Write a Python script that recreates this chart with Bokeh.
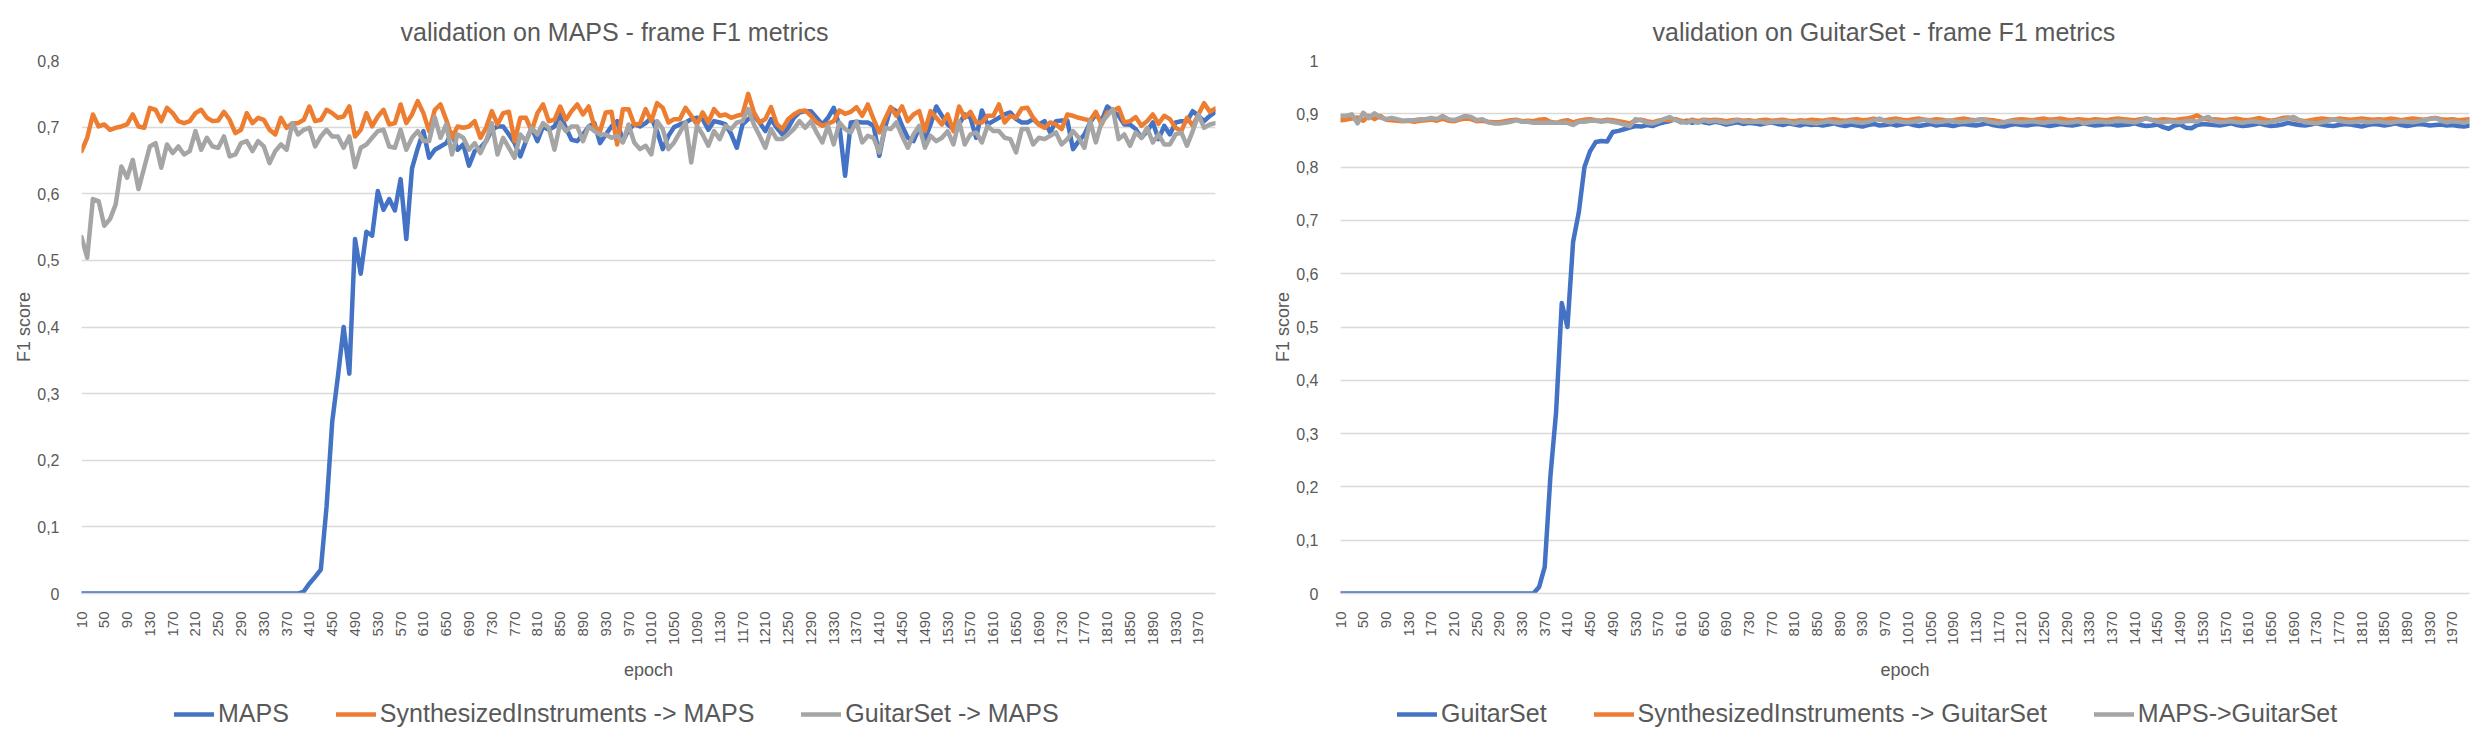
import math
from bokeh.plotting import figure
from bokeh.models import (FixedTicker, CustomJSTickFormatter, Legend, LegendItem,
                          Range1d, Spacer)
from bokeh.layouts import row, column
from bokeh.embed import file_html
from bokeh.resources import INLINE

# ---------------- data ----------------
epochs = list(range(10, 2001, 10))
x_tick_labels = epochs[::4]
left_y_ticks = [0, 0.1, 0.2, 0.3, 0.4, 0.5, 0.6, 0.7, 0.8]
right_y_ticks = [0, 0.1, 0.2, 0.3, 0.4, 0.5, 0.6, 0.7, 0.8, 0.9, 1.0]

left_names = ["MAPS", "SynthesizedInstruments -> MAPS", "GuitarSet -> MAPS"]
right_names = ["GuitarSet", "SynthesizedInstruments -> GuitarSet", "MAPS->GuitarSet"]

maps_maps = [0.0] * 39 + [
    0.003, 0.015, 0.025, 0.036, 0.13, 0.258, 0.326, 0.400, 0.330, 0.532,
    0.480, 0.543, 0.537, 0.604, 0.576, 0.592, 0.575, 0.622, 0.532, 0.638,
    0.668, 0.694, 0.654, 0.666, 0.671, 0.676, 0.691, 0.666, 0.674, 0.642,
    0.664, 0.669, 0.679, 0.696, 0.701, 0.701, 0.689, 0.676, 0.656, 0.679,
    0.699, 0.679, 0.701, 0.696, 0.701, 0.719, 0.699, 0.681, 0.679, 0.689,
    0.701, 0.706, 0.676, 0.689, 0.701, 0.709, 0.679, 0.696, 0.704, 0.701,
    0.706,
    0.714, 0.694, 0.667, 0.687, 0.700, 0.704, 0.707, 0.712, 0.714, 0.712,
    0.696, 0.709, 0.707, 0.704, 0.690, 0.669, 0.704, 0.712, 0.717, 0.707,
    0.694, 0.712, 0.699, 0.689, 0.699, 0.714, 0.722, 0.724, 0.724, 0.714,
    0.704, 0.714, 0.729, 0.702, 0.627, 0.707, 0.708, 0.707, 0.707, 0.702,
    0.657, 0.699, 0.729, 0.724, 0.702, 0.684, 0.679, 0.699, 0.682, 0.704,
    0.731, 0.717, 0.704, 0.697, 0.704, 0.719, 0.714, 0.684, 0.725, 0.704,
    0.709, 0.714, 0.719, 0.722, 0.712, 0.707, 0.707, 0.712, 0.704, 0.709,
    0.692, 0.709, 0.710, 0.710, 0.667, 0.679, 0.689, 0.707, 0.719, 0.709,
    0.731, 0.724, 0.717, 0.704, 0.704, 0.697, 0.684, 0.694, 0.707, 0.682,
    0.702, 0.689, 0.707, 0.709, 0.709, 0.724, 0.717, 0.709, 0.717, 0.723,
]

synth_maps = [
    0.664, 0.684, 0.719, 0.701, 0.704, 0.696, 0.699, 0.701, 0.704, 0.719,
    0.701, 0.699, 0.729, 0.726, 0.709, 0.729, 0.721, 0.709, 0.706, 0.709,
    0.721, 0.726, 0.714, 0.709, 0.710, 0.723, 0.711, 0.691, 0.696, 0.721,
    0.706, 0.714, 0.711, 0.696, 0.689, 0.714, 0.699, 0.706, 0.706, 0.711,
    0.731, 0.709, 0.711, 0.726, 0.721, 0.714, 0.716, 0.731, 0.686, 0.696,
    0.721, 0.701, 0.716, 0.726, 0.704, 0.706, 0.734, 0.706, 0.719, 0.739,
    0.721, 0.694, 0.726, 0.734, 0.711, 0.684, 0.701, 0.699, 0.701, 0.709,
    0.684, 0.699, 0.724, 0.704, 0.721, 0.723, 0.679, 0.714, 0.714, 0.694,
    0.721, 0.734, 0.709, 0.711, 0.731, 0.711, 0.724, 0.734, 0.719, 0.731,
    0.701, 0.694, 0.722, 0.723, 0.674, 0.727, 0.727, 0.704, 0.705, 0.727,
    0.709, 0.736, 0.729, 0.707, 0.712, 0.712, 0.729, 0.717, 0.704, 0.722,
    0.707, 0.727, 0.717, 0.719, 0.714, 0.717, 0.719, 0.750, 0.722, 0.707,
    0.712, 0.730, 0.705, 0.697, 0.712, 0.719, 0.724, 0.725, 0.717, 0.707,
    0.702, 0.705, 0.709, 0.725, 0.720, 0.723, 0.730, 0.717, 0.734, 0.712,
    0.692, 0.712, 0.730, 0.717, 0.731, 0.709, 0.719, 0.724, 0.694, 0.724,
    0.714, 0.704, 0.719, 0.694, 0.731, 0.714, 0.723, 0.707, 0.707, 0.717,
    0.717, 0.734, 0.707, 0.717, 0.714, 0.728, 0.729, 0.714, 0.704, 0.699,
    0.707, 0.704, 0.697, 0.719, 0.717, 0.714, 0.712, 0.710, 0.723, 0.704,
    0.722, 0.724, 0.729, 0.707, 0.709, 0.715, 0.702, 0.709, 0.719, 0.705,
    0.717, 0.712, 0.699, 0.694, 0.714, 0.702, 0.719, 0.736, 0.723, 0.728,
]

guitar_maps = [
    0.535, 0.504, 0.592, 0.589, 0.552, 0.562, 0.584, 0.641, 0.624, 0.651,
    0.607, 0.639, 0.671, 0.676, 0.639, 0.674, 0.661, 0.671, 0.659, 0.664,
    0.694, 0.666, 0.684, 0.671, 0.669, 0.686, 0.656, 0.659, 0.676, 0.679,
    0.664, 0.679, 0.671, 0.646, 0.664, 0.674, 0.666, 0.706, 0.689, 0.696,
    0.699, 0.671, 0.686, 0.696, 0.686, 0.686, 0.669, 0.686, 0.640, 0.669,
    0.674, 0.684, 0.694, 0.696, 0.671, 0.669, 0.696, 0.666, 0.684, 0.694,
    0.679, 0.679, 0.715, 0.684, 0.704, 0.659, 0.689, 0.684, 0.666, 0.676,
    0.661, 0.679, 0.706, 0.659, 0.684, 0.669, 0.654, 0.689, 0.679, 0.699,
    0.689, 0.706, 0.699, 0.666, 0.706, 0.694, 0.701, 0.701, 0.679, 0.701,
    0.694, 0.689, 0.689, 0.684, 0.687, 0.677, 0.704, 0.677, 0.667, 0.672,
    0.659, 0.709, 0.697, 0.667, 0.677, 0.692, 0.707, 0.647, 0.702, 0.689,
    0.672, 0.694, 0.682, 0.702, 0.697, 0.707, 0.709, 0.727, 0.704, 0.687,
    0.669, 0.697, 0.682, 0.682, 0.689, 0.697, 0.709, 0.699, 0.709, 0.692,
    0.677, 0.702, 0.674, 0.707, 0.697, 0.692, 0.708, 0.677, 0.687, 0.684,
    0.662, 0.699, 0.697, 0.707, 0.687, 0.669, 0.689, 0.702, 0.669, 0.687,
    0.679, 0.684, 0.694, 0.674, 0.709, 0.674, 0.689, 0.692, 0.677, 0.702,
    0.694, 0.694, 0.684, 0.682, 0.662, 0.697, 0.697, 0.674, 0.684, 0.682,
    0.687, 0.692, 0.674, 0.682, 0.694, 0.684, 0.669, 0.709, 0.677, 0.707,
    0.717, 0.727, 0.682, 0.689, 0.672, 0.692, 0.684, 0.699, 0.677, 0.689,
    0.674, 0.674, 0.689, 0.692, 0.672, 0.694, 0.719, 0.699, 0.704, 0.706,
]

guitar_guitar = [0.0] * 35 + [
    0.012, 0.050, 0.220, 0.340, 0.545, 0.500, 0.660, 0.715, 0.800, 0.830,
    0.847, 0.849, 0.848, 0.866, 0.868, 0.871, 0.874, 0.877, 0.876, 0.879,
    0.877, 0.881, 0.884, 0.886, 0.890, 0.884, 0.887, 0.883, 0.886, 0.884,
    0.882, 0.885, 0.883, 0.880, 0.882, 0.884, 0.881, 0.883, 0.882, 0.880,
    0.882, 0.884, 0.881, 0.879, 0.882, 0.880, 0.878, 0.881, 0.879, 0.880,
    0.878, 0.880, 0.882, 0.879, 0.877, 0.880, 0.878, 0.876, 0.879, 0.881,
    0.878, 0.879, 0.881, 0.878, 0.880, 0.882, 0.879, 0.877, 0.879, 0.881,
    0.878, 0.880, 0.879, 0.877, 0.880, 0.881, 0.879, 0.878, 0.880, 0.882,
    0.879, 0.877, 0.876, 0.879, 0.881, 0.879, 0.878, 0.880, 0.881, 0.879,
    0.877, 0.879, 0.881, 0.879, 0.878, 0.880, 0.882, 0.880, 0.878, 0.879,
    0.881, 0.880, 0.878, 0.879, 0.880, 0.882, 0.879, 0.877, 0.878, 0.880,
    0.875, 0.872, 0.878, 0.880, 0.874, 0.873, 0.879, 0.881, 0.880, 0.879,
    0.878, 0.880, 0.882, 0.879, 0.877, 0.878, 0.880, 0.882, 0.879, 0.877,
    0.878, 0.880, 0.883, 0.881, 0.879, 0.878, 0.880, 0.882, 0.880, 0.878,
    0.877, 0.879, 0.881, 0.880, 0.878, 0.876, 0.879, 0.881, 0.880, 0.878,
    0.880, 0.882, 0.879, 0.877, 0.879, 0.881, 0.880, 0.878, 0.879, 0.880,
    0.878, 0.879, 0.877, 0.876, 0.878,
]

synth_guitar = [
    0.888, 0.889, 0.891, 0.893, 0.887, 0.896, 0.890, 0.896, 0.889, 0.888,
    0.887, 0.886, 0.887, 0.885, 0.887, 0.888, 0.889, 0.887, 0.891, 0.887,
    0.886, 0.889, 0.891, 0.890, 0.886, 0.887, 0.885, 0.884, 0.884, 0.886,
    0.888, 0.889, 0.886, 0.887, 0.886, 0.889, 0.890, 0.885, 0.883, 0.886,
    0.888, 0.884, 0.887, 0.889, 0.890, 0.888, 0.887, 0.889, 0.888, 0.886,
    0.884, 0.882, 0.887, 0.889, 0.886, 0.884, 0.887, 0.889, 0.888, 0.890,
    0.887, 0.885, 0.889, 0.886, 0.889, 0.888, 0.889, 0.888, 0.886, 0.888,
    0.889, 0.887, 0.888, 0.886, 0.888, 0.889, 0.887, 0.888, 0.889, 0.887,
    0.886, 0.888, 0.887, 0.889, 0.888, 0.887, 0.889, 0.890, 0.888, 0.887,
    0.889, 0.890, 0.888, 0.889, 0.891, 0.889, 0.888, 0.890, 0.891, 0.889,
    0.888, 0.890, 0.891, 0.889, 0.888, 0.890, 0.889, 0.887, 0.888, 0.890,
    0.891, 0.889, 0.888, 0.890, 0.889, 0.888, 0.886, 0.884, 0.887, 0.889,
    0.890, 0.889, 0.888, 0.890, 0.891, 0.889, 0.890, 0.891, 0.889, 0.888,
    0.890, 0.889, 0.888, 0.890, 0.889, 0.888, 0.890, 0.891, 0.890, 0.889,
    0.888, 0.890, 0.891, 0.889, 0.888, 0.890, 0.889, 0.888, 0.890, 0.891,
    0.893, 0.897, 0.891, 0.889, 0.890, 0.889, 0.888, 0.890, 0.891, 0.889,
    0.888, 0.890, 0.892, 0.889, 0.887, 0.889, 0.892, 0.893, 0.890, 0.888,
    0.886, 0.888, 0.890, 0.891, 0.890, 0.889, 0.891, 0.890, 0.889, 0.890,
    0.891, 0.890, 0.889, 0.890, 0.889, 0.891, 0.890, 0.888, 0.890, 0.891,
    0.890, 0.889, 0.891, 0.892, 0.890, 0.889, 0.890, 0.888, 0.889, 0.890,
]

maps_guitar = [
    0.896, 0.896, 0.899, 0.882, 0.902, 0.892, 0.901, 0.893, 0.890, 0.892,
    0.890, 0.887, 0.888, 0.888, 0.890, 0.890, 0.892, 0.890, 0.896, 0.890,
    0.888, 0.892, 0.896, 0.894, 0.888, 0.890, 0.884, 0.882, 0.882, 0.883,
    0.885, 0.888, 0.885, 0.885, 0.883, 0.883, 0.883, 0.883, 0.883, 0.883,
    0.883, 0.879, 0.885, 0.885, 0.887, 0.887, 0.885, 0.887, 0.885, 0.883,
    0.880, 0.877, 0.890, 0.888, 0.883, 0.882, 0.885, 0.890, 0.894, 0.888,
    0.885, 0.883, 0.887, 0.883, 0.888, 0.885, 0.887, 0.885, 0.883, 0.885,
    0.888, 0.885, 0.885, 0.885, 0.885, 0.883, 0.885, 0.885, 0.885, 0.885,
    0.882, 0.885, 0.884,
    0.883, 0.882, 0.884, 0.886, 0.884, 0.883, 0.885, 0.886, 0.884, 0.883,
    0.885, 0.888, 0.891, 0.886, 0.884, 0.887, 0.885, 0.884, 0.885, 0.887,
    0.889, 0.886, 0.884, 0.885, 0.887, 0.886, 0.884, 0.885, 0.886, 0.888,
    0.890, 0.886, 0.884, 0.882, 0.884, 0.886, 0.885, 0.884, 0.885, 0.886,
    0.884, 0.883, 0.885, 0.886, 0.884, 0.883, 0.884, 0.886, 0.882, 0.884,
    0.885, 0.886, 0.884, 0.885, 0.887, 0.886, 0.885, 0.884, 0.887, 0.892,
    0.888, 0.885, 0.884, 0.886, 0.885, 0.884, 0.886, 0.887, 0.885, 0.891,
    0.894, 0.886, 0.884, 0.885, 0.886, 0.884, 0.883, 0.885, 0.886, 0.884,
    0.883, 0.885, 0.887, 0.889, 0.891, 0.894, 0.888, 0.884, 0.883, 0.882,
    0.884, 0.886, 0.890, 0.887, 0.885, 0.884, 0.885, 0.886, 0.884, 0.885,
    0.886, 0.884, 0.883, 0.885, 0.886, 0.885, 0.884, 0.886, 0.888, 0.890,
    0.892, 0.887, 0.884, 0.886, 0.885, 0.883, 0.886,
]

for s in (maps_maps, synth_maps, guitar_maps, guitar_guitar, synth_guitar, maps_guitar):
    assert len(s) == len(epochs), len(s)

# ---------------- style ----------------
COLORS = ["#4472C4", "#ED7D31", "#A5A5A5"]
TEXT = "#595959"
GRID = "#D9D9D9"
FONT = "Liberation Sans"
LW = 4.5
CHART_H = 692
LEGEND_H = 36


def make_chart(title, ymax, yticks, series, width, b_left, b_right, title_off):
    p = figure(width=width, height=CHART_H,
               x_range=Range1d(epochs[0], epochs[-1]), y_range=Range1d(0, ymax),
               output_backend="svg", toolbar_location=None, title=title,
               min_border_left=b_left, min_border_right=b_right,
               min_border_top=58, min_border_bottom=CHART_H - 593)
    p.outline_line_color = None
    p.background_fill_color = "white"
    p.border_fill_color = "white"

    p.title.align = "left"
    p.title.offset = title_off
    p.title.standoff = 30
    p.title.text_font = FONT
    p.title.text_font_size = "25px"
    p.title.text_font_style = "normal"
    p.title.text_color = TEXT

    p.xgrid.grid_line_color = None
    p.ygrid.grid_line_color = GRID
    p.ygrid.grid_line_width = 1.5

    xa = p.xaxis[0]
    xa.ticker = FixedTicker(ticks=x_tick_labels)
    xa.major_label_orientation = math.pi / 2
    xa.major_tick_line_color = None
    xa.minor_tick_line_color = None
    xa.axis_line_color = GRID
    xa.axis_line_width = 1.5
    xa.major_label_standoff = 12
    xa.major_label_text_font = FONT
    xa.major_label_text_font_size = "15px"
    xa.major_label_text_color = TEXT
    xa.axis_label = "epoch"
    xa.axis_label_standoff = 12
    xa.axis_label_text_font = FONT
    xa.axis_label_text_font_size = "18px"
    xa.axis_label_text_font_style = "normal"
    xa.axis_label_text_color = TEXT

    ya = p.yaxis[0]
    ya.ticker = FixedTicker(ticks=yticks)
    ya.formatter = CustomJSTickFormatter(
        code="return (Math.round(tick * 10) / 10).toString().replace('.', ',');")
    ya.axis_line_color = None
    ya.major_tick_line_color = None
    ya.minor_tick_line_color = None
    ya.major_label_standoff = 16
    ya.major_label_text_font = FONT
    ya.major_label_text_font_size = "16px"
    ya.major_label_text_color = TEXT
    ya.axis_label = "F1 score"
    ya.axis_label_standoff = 0
    ya.axis_label_text_font = FONT
    ya.axis_label_text_font_size = "18px"
    ya.axis_label_text_font_style = "normal"
    ya.axis_label_text_color = TEXT

    for ys, col in zip(series, COLORS):
        p.line(epochs, ys, line_color=col, line_width=LW,
               line_join="round", line_cap="round")
    return p


def make_legend(series, names, width, legend_x):
    # the series are drawn outside this strip's visible range; only the legend shows
    p = figure(width=width, height=LEGEND_H, x_range=Range1d(-2, -1), y_range=Range1d(-2, -1),
               output_backend="svg", toolbar_location=None, title=None,
               x_axis_type=None, y_axis_type=None, min_border=0)
    p.outline_line_color = None
    p.background_fill_color = "white"
    p.border_fill_color = "white"
    items = []
    for ys, name, col in zip(series, names, COLORS):
        r = p.line(epochs, ys, line_color=col, line_width=LW, line_cap="round")
        items.append(LegendItem(label=name, renderers=[r]))
    leg = Legend(items=items, orientation="horizontal", location=(legend_x, 0))
    leg.label_text_font = FONT
    leg.label_text_font_size = "25px"
    leg.label_text_color = TEXT
    leg.glyph_width = 40
    leg.glyph_height = 24
    leg.label_standoff = 4
    leg.spacing = 47
    leg.padding = 0
    leg.margin = 0
    leg.border_line_color = None
    leg.background_fill_alpha = 0
    p.add_layout(leg)
    return p


left = make_chart("validation on MAPS - frame F1 metrics", 0.8, left_y_ticks,
                  [maps_maps, synth_maps, guitar_maps], 1259, 60, 55, 319)
right = make_chart("validation on GuitarSet - frame F1 metrics", 1.0, right_y_ticks,
                   [guitar_guitar, synth_guitar, maps_guitar], 1200, 59, 1, 312)
left_leg = make_legend([maps_maps, synth_maps, guitar_maps], left_names, 1259, 163)
right_leg = make_legend([guitar_guitar, synth_guitar, maps_guitar], right_names, 1200, 127)

layout = column(row(Spacer(width=11, height=CHART_H), left, right),
                row(Spacer(width=11, height=LEGEND_H), left_leg, right_leg))
open("out.html", "w").write(file_html(layout, INLINE))
